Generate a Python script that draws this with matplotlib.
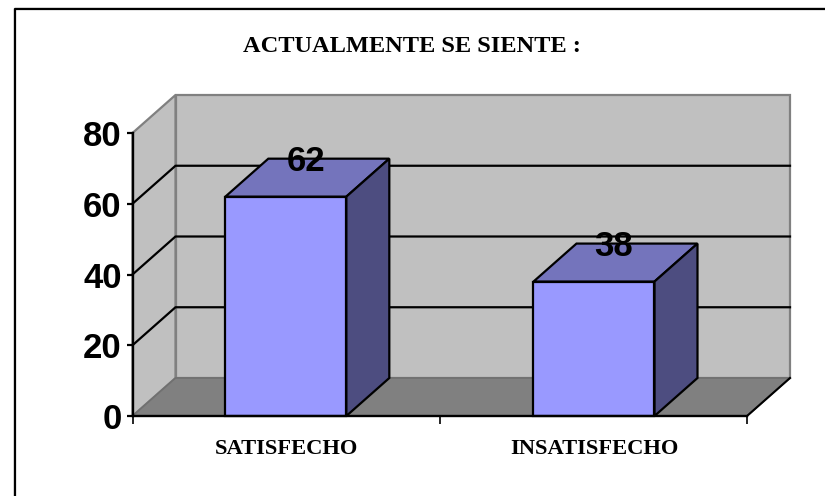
import matplotlib
matplotlib.use("Agg")
import matplotlib.pyplot as plt
from matplotlib.patches import Polygon

categories = ["SATISFECHO", "INSATISFECHO"]
values = [62, 38]
y_ticks = [0, 20, 40, 60, 80]
title = "ACTUALMENTE SE SIENTE :"
sans = "Liberation Sans"

W, H = 825, 496
fig = plt.figure(figsize=(W / 100, H / 100), dpi=100, facecolor="white")

# Outer frame: top and left edges only, black with a grey outer edge
bg = fig.add_axes([0, 0, 1, 1], zorder=0)
bg.set_xlim(0, W); bg.set_ylim(H, 0); bg.axis("off")
bg.plot([14, 14, W], [H, 7.5, 7.5], color="#A8A8A8", lw=1.0)
bg.plot([15.4, 15.4, W], [H, 9.2, 9.2], color="black", lw=1.6)

# Front plane of the 3D box
x0, x1, y0, y80 = 132.5, 747, 416, 133
ax = fig.add_axes([x0 / W, 1 - y0 / H, (x1 - x0) / W, (y0 - y80) / H], zorder=1)
ax.set_xlim(0, len(categories))
ax.set_ylim(0, 80)
ax.patch.set_alpha(0)
for s in ["top", "right"]:
    ax.spines[s].set_visible(False)
for s in ["left", "bottom"]:
    ax.spines[s].set_linewidth(1.7)
    ax.spines[s].set_zorder(6)

px_x = len(categories) / (x1 - x0)
px_y = 80 / (y0 - y80)
dx, dy = 43 * px_x, 38 * px_y
xmax = len(categories)

wall = "#C0C0C0"; edge = "#808080"
kw = dict(clip_on=False)
ax.add_patch(Polygon([(dx, dy), (xmax + dx, dy), (xmax + dx, 80 + dy), (dx, 80 + dy)],
                     fc=wall, ec=edge, lw=1.6, zorder=1, **kw))
ax.add_patch(Polygon([(0, 0), (dx, dy), (dx, 80 + dy), (0, 80)],
                     fc=wall, ec=edge, lw=1.6, zorder=1, **kw))
ax.add_patch(Polygon([(0, 0), (xmax, 0), (xmax + dx, dy), (dx, dy)],
                     fc="#808080", ec="#707070", lw=1.2, zorder=1.5, **kw))
ax.plot([xmax, xmax + dx], [0, dy], color="black", lw=1.5, zorder=2, **kw)

for t in y_ticks[1:-1]:
    ax.plot([0, dx, xmax + dx], [t, t + dy, t + dy], color="black", lw=1.6, zorder=2, **kw)

bar_w = 121 * px_x
for i, v in enumerate(values):
    c = i + 0.5 + (-0.001 if i == 0 else 0.002)
    l, r = c - bar_w / 2, c + bar_w / 2
    ax.bar(c, v, width=bar_w, color="#9999FF", edgecolor="black", linewidth=1.6, zorder=4, clip_on=False)
    ax.add_patch(Polygon([(l, v), (r, v), (r + dx, v + dy), (l + dx, v + dy)],
                         fc="#7474BC", ec="black", lw=1.6, zorder=3.5, **kw))
    ax.add_patch(Polygon([(r, 0), (r + dx, dy), (r + dx, v + dy), (r, v)],
                         fc="#4D4D80", ec="black", lw=1.6, zorder=3.5, **kw))
    ax.text(c + 20 * px_x, v + dy - 3 * px_y, str(v), ha="center", va="center", zorder=7,
            family=sans, weight="bold", size=25, color="black", **kw)

ax.set_xticks(range(len(categories) + 1))
ax.set_xticklabels([])
ax.set_yticks(y_ticks)
ax.set_yticklabels([str(t) for t in y_ticks], family=sans, weight="bold", size=25)
ax.tick_params(axis="y", length=4.5, width=1.6, pad=3.4)
ax.tick_params(axis="x", length=6, width=1.2)
for i, c in enumerate(categories):
    ax.text(i + 0.5 + 0.002, -9.4, c, ha="center", va="center", family="Liberation Serif",
            weight="bold", size=16.2, clip_on=False)

fig.text(411.5 / W, 1 - 47 / H, title, ha="center", va="center",
         family="Liberation Serif", weight="bold", size=17.6)

fig.savefig("out.png", dpi=100, facecolor="white")
